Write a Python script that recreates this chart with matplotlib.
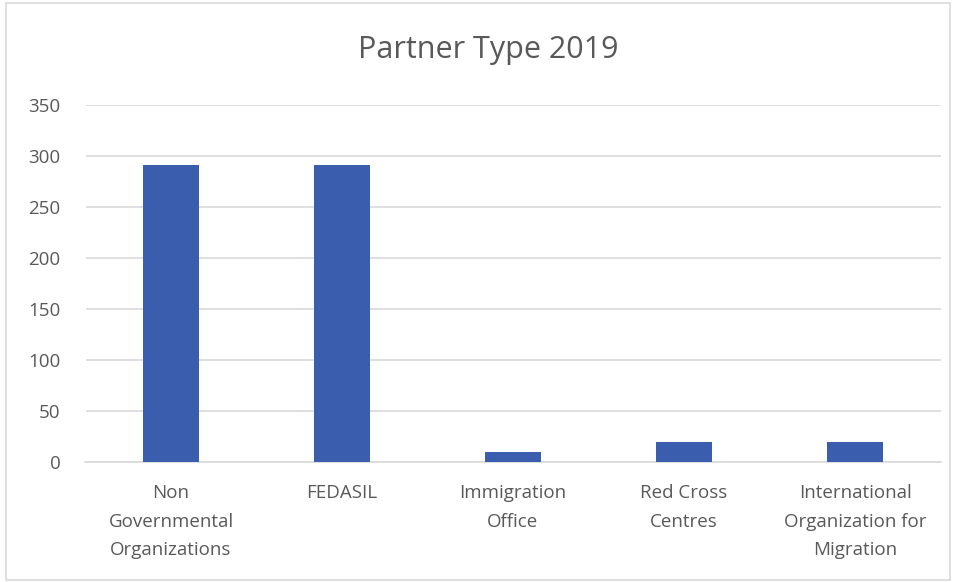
import matplotlib
matplotlib.use("Agg")
import matplotlib.pyplot as plt
from matplotlib.patches import Rectangle

categories = ["Non\nGovernmental\nOrganizations", "FEDASIL", "Immigration\nOffice",
              "Red Cross\nCentres", "International\nOrganization for\nMigration"]
values = [291, 291, 10, 20, 20]
yticks = [0, 50, 100, 150, 200, 250, 300, 350]

plt.rcParams['font.family'] = ['Open Sans', 'DejaVu Sans']

fig = plt.figure(figsize=(9.56, 5.82), dpi=100)
# chart frame
fig.patches.append(Rectangle((0.006, 0.004), 0.988, 0.99, transform=fig.transFigure,
                             fill=False, edgecolor='#d9d9d9', linewidth=1.2))
ax = fig.add_axes([85.5/956, 1-462/582, 855/956, 357/582])

x = range(len(categories))
ax.bar(x, values, width=0.33, color='#3A5DAE', zorder=3)

ax.set_xlim(-0.5, len(categories)-0.5)
ax.set_ylim(0, 350)
ax.set_yticks(yticks)
ax.set_xticks(list(x))
ax.set_xticklabels(categories, fontsize=13.5, color='#595959', linespacing=1.75)
ax.tick_params(axis='y', labelsize=13.5, labelcolor='#595959', length=0, pad=18)
ax.tick_params(axis='x', length=0, pad=16)
ax.grid(axis='y', color='#d9d9d9', linewidth=1.2, zorder=0)
for s in ['top', 'right', 'left']:
    ax.spines[s].set_visible(False)
ax.spines['bottom'].set_color('#d9d9d9')
ax.spines['bottom'].set_linewidth(1.2)

fig.text(0.511, 1-50/582, "Partner Type 2019", ha='center', va='center',
         fontsize=22, color='#595959')

fig.savefig("out.png", dpi=100)
